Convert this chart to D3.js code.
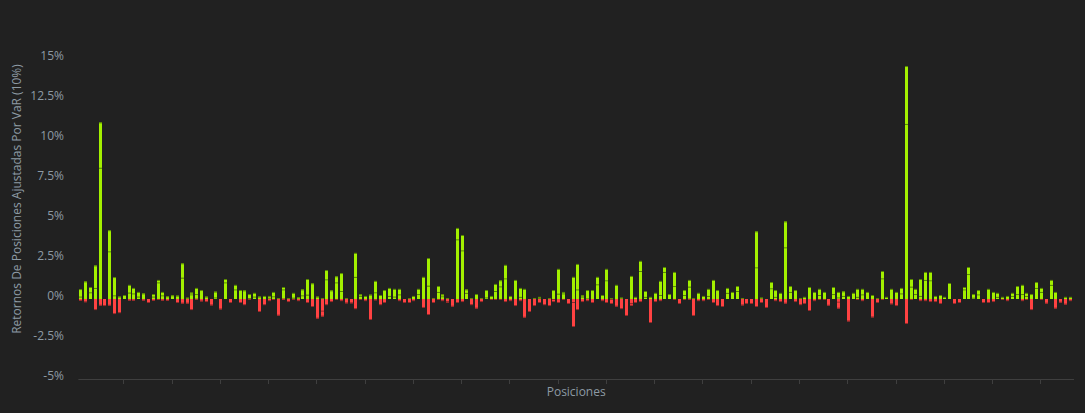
<!DOCTYPE html>
<html>
<head>
<meta charset="utf-8">
<script src="https://cdn.jsdelivr.net/npm/d3@7"></script>
<style>
  html, body { margin: 0; padding: 0; background: #212121; }
  svg { display: block; }
  text { font-family: "Open Sans", sans-serif; }
</style>
</head>
<body>
<svg id="chart" width="1085" height="413"></svg>
<script>
// ---- Data (positions 1..206, values in %) ----
const gainsBase = [0.15,1.1,0.42,0.69,8.2,0,2.98,0.23,0.15,0.25,0.4,0.35,0.15,0.35,0,0.15,1.04,0.23,0.17,0.23,
0.21,1.33,0.08,0.29,0.31,0.56,0.15,0,0.1,0,1.04,0,0.6,0.56,0.54,0.06,0.15,0.15,0.19,0.08,
0.17,0.05,0.6,0.04,0.08,0.1,0.23,0.27,0.98,0.15,0.04,1.23,0.54,1.04,0.5,0.04,0,1.38,0.19,0.19,
0.27,0.42,0.25,0.56,0.19,0.15,0.29,0,0.04,0.19,0.31,1.38,0.83,0.04,0.44,0.17,0.04,0,3.73,3.04,
0.38,0.04,0.31,0.04,0.1,0.19,0.5,0.79,1.29,0.19,1.19,0.13,0.63,0,0.04,0.06,0,0.06,0.56,0.33,
0.35,0,1.38,0.6,0.15,0.04,0.56,0.92,0.25,1.17,0.05,0.88,0.08,0,1.44,0.13,1.75,0.13,0.13,0.38,
0.25,1.69,0.31,0.81,0,0.25,0.77,0.06,0.38,0.19,0.19,1.19,0.56,0,0.38,0.44,0.5,0.05,0,0,
1.98,0.08,0,0.67,0.13,0.38,3.23,0.44,0.56,0.04,0.13,0.75,0.44,0.25,0.44,0,0.31,0.1,0.19,0.19,
0.38,0.13,0.29,0.44,0.25,0.06,1.29,0.13,0.63,0.44,0.35,10.94,0.77,0.31,0.19,1.19,1.17,0.19,0.25,0.13,
1.0,0,0,0.6,1.56,0.08,0.29,0,0.63,0.44,0.13,0.13,0.19,0.19,0.31,0.31,0.19,0.31,0.69,0.44,
0,0.88,0.44,0,0.13,0.13];
const gainsExtra = [0.47,0,0.33,1.41,2.84,0,1.32,1.14,0,0,0.48,0.34,0.29,0,0,0.16,0.15,0.21,0,0,
0,0.9,0,0.11,0.38,0,0,0,0.36,0,0.21,0,0.28,0,0,0.25,0.23,0,0,0.11,
0.27,0,0.15,0,0.3,0,0.37,0.98,0,0,0,0.58,0,0.38,1.12,0,0,1.5,0.1,0,
0,0.71,0,0,0.5,0.48,0.34,0,0,0,0.32,0,1.73,0,0.37,0.12,0,0,0.71,0.96,
0.22,0,0,0,0.46,0,0.44,0.38,0.84,0,0,0.56,0,0,0,0.07,0,0,0,1.55,
0.09,0,0,1.59,0.08,0.52,0,0.46,0,0.71,0,0,0,0,0,0,0.63,0.37,0,0,
0.88,0.31,0,0.88,0,0.31,0.42,0,0,0,0.44,0,0,0,0.31,0,0.31,0,0,0,
2.25,0,0,0.39,0.43,0,1.62,0.37,0,0,0,0,0,0.38,0,0,0.44,0.34,0.29,0,
0,0.5,0.34,0,0,0,0.46,0,0,0,0.34,3.62,0.48,0.32,1.06,0.5,0.52,0,0,0,
0,0,0,0.15,0.44,0.23,0.27,0,0,0,0.25,0,0,0.19,0.5,0.57,0.19,0,0.37,0.25,
0,0.31,0,0,0,0];
const lossesBase = [-0.12,-0.2,0,-0.69,-0.42,-0.44,-0.42,-0.94,-0.88,0,-0.1,-0.1,0,-0.1,-0.25,-0.12,-0.06,-0.1,-0.12,0,
-0.25,-0.29,-0.29,-0.69,-0.04,-0.15,-0.19,-0.4,0,-0.65,0,-0.25,0,-0.25,-0.38,-0.06,0,-0.81,-0.38,-0.13,
-0.06,-1.04,-0.03,-0.19,-0.06,-0.13,0,-0.25,-0.5,-1.23,-0.79,-0.38,-0.19,-0.06,-0.13,-0.27,-0.27,-0.63,-0.06,-0.13,
-1.31,-0.08,-0.38,-0.25,0,0,-0.13,-0.25,-0.25,-0.13,0,-0.56,-1.0,-0.25,-0.06,-0.13,-0.19,-0.48,-0.25,-0.19,
0,-0.38,-0.6,-0.19,0,-0.06,-0.06,-0.06,-0.19,-0.13,-0.44,-0.13,-1.17,-0.81,-0.44,-0.25,-0.38,-0.44,-0.06,-0.25,
-0.06,-0.31,-0.25,-0.69,-0.19,-0.13,-0.25,0,-0.13,-0.25,-0.06,-0.48,-0.63,-1.06,-0.31,-0.25,-0.19,0,-1.5,-0.19,
-0.13,0,0,-0.06,-0.31,-0.06,-0.04,-1.06,-0.13,-0.13,-0.06,-0.25,-0.44,-0.5,0,0,0,-0.4,-0.31,-0.31,
-0.5,-0.25,-0.56,0,-0.13,-0.19,-0.29,0,-0.19,-0.38,-0.31,-0.75,-0.13,-0.06,-0.06,-0.42,0,-0.23,0,-1.4,
0,-0.06,-0.13,0,-1.15,-0.25,-0.06,0,-0.33,-0.44,0,-1.56,-0.06,0,-0.13,-0.13,-0.19,-0.19,-0.31,0,
0,-0.31,-0.25,0,0,0,0,-0.25,-0.25,-0.19,0,-0.06,-0.13,0,0,-0.13,-0.06,-0.69,0,-0.06,
-0.29,0,-0.6,-0.23,-0.35,-0.13];
const lossesExtra = (() => {
  // outer negative segments (only a few positions have them)
  const arr = new Array(206).fill(0);
  const extras = {51: -0.31, 77: -0.06, 99: -0.13, 103: -1.5, 111: -0.25, 115: -0.11, 158: -0.37};
  for (const k in extras) arr[+k - 1] = extras[k];
  return arr;
})();
const positions = d3.range(1, gainsBase.length + 1);
const yTicks = [-5, -2.5, 0, 2.5, 5, 7.5, 10, 12.5, 15];
const yTickLabels = ["-5%", "-2.5%", "0%", "2.5%", "5%", "7.5%", "10%", "12.5%", "15%"];
const xTicks = d3.range(10, 201, 10);
const yTitle = "Retornos De Posiciones Ajustadas Por VaR (10%)";
const xTitle = "Posiciones";

// ---- Layout ----
const svg = d3.select("#chart");
const plotLeft = 78.4, plotRight = 1074, plotTop = 19, plotBottom = 379;
const x = d3.scaleLinear().domain([0.5, 206.5]).range([78.4, 78.4 + 206 * 4.827]);
const y = d3.scaleLinear().domain([-5, 17.5]).range([plotBottom, plotTop]);

const GREEN = "#a3f000", GREEN_DARK = "#4f7a00";
const RED = "#ff4242", RED_DARK = "#8e2727";
const LABEL = "#8d9aa4";
const barW = 3;

const g = svg.append("g");

// Build stacked segments
const segs = [];
positions.forEach((p, i) => {
  let up = 0;
  [gainsBase[i], gainsExtra[i]].forEach(v => {
    if (v > 0) { segs.push({p, y0: up, y1: up + v, pos: true}); up += v; }
  });
  let dn = 0;
  [lossesBase[i], lossesExtra[i]].forEach(v => {
    if (v < 0) { segs.push({p, y0: dn, y1: dn + v, pos: false}); dn += v; }
  });
});

segs.forEach(s => {
  const cx = x(s.p);
  const left = Math.round(cx - barW / 2);
  const yA = y(s.y0), yB = y(s.y1);
  const top = Math.min(yA, yB), h = Math.abs(yA - yB);
  g.append("rect")
    .attr("x", left).attr("y", top).attr("width", barW).attr("height", Math.max(h, 0.8))
    .attr("fill", s.pos ? GREEN : RED);
  // darker edge at the outer end of each segment
  g.append("rect")
    .attr("x", left).attr("width", barW).attr("height", 1)
    .attr("y", s.pos ? yB : yB - 1)
    .attr("fill", s.pos ? GREEN_DARK : RED_DARK)
    .attr("opacity", 0.9);
});

// X axis
const xAxisG = svg.append("g").attr("transform", `translate(0,${plotBottom})`);
xAxisG.append("line").attr("x1", plotLeft).attr("x2", plotRight)
  .attr("y1", 0.5).attr("y2", 0.5).attr("stroke", "#3f3f3f").attr("stroke-width", 1);
xAxisG.selectAll("line.tick").data(xTicks).enter().append("line")
  .attr("class", "tick")
  .attr("x1", d => Math.round(x(d)) - 0.5).attr("x2", d => Math.round(x(d)) - 0.5)
  .attr("y1", 0.5).attr("y2", 5).attr("stroke", "#3f3f3f");

// Y labels
svg.append("g").selectAll("text").data(yTicks).enter().append("text")
  .attr("x", 64).attr("y", d => y(d) - 3.5)
  .attr("dy", "0.35em")
  .attr("text-anchor", "end")
  .attr("fill", LABEL).attr("font-size", 12)
  .text((d, i) => yTickLabels[i]);

// Axis titles
svg.append("text")
  .attr("transform", `translate(21,199) rotate(-90)`)
  .attr("text-anchor", "middle").attr("fill", LABEL).attr("font-size", 12)
  .text(yTitle);
svg.append("text")
  .attr("x", (plotLeft + plotRight) / 2).attr("y", 396)
  .attr("text-anchor", "middle").attr("fill", LABEL).attr("font-size", 12)
  .text(xTitle);
</script>
</body>
</html>
